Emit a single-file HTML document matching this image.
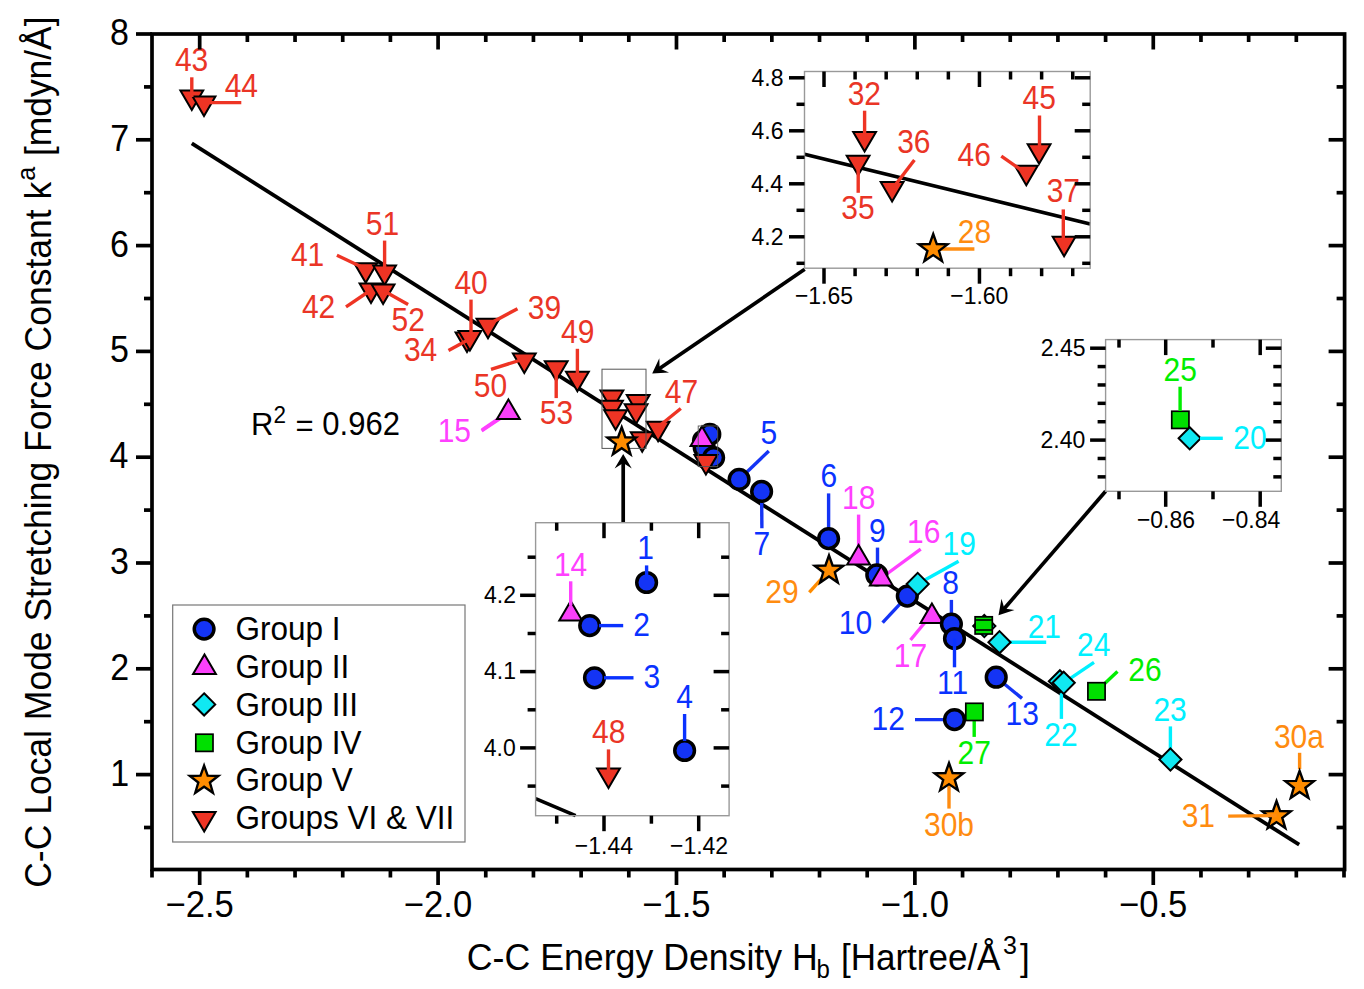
<!DOCTYPE html>
<html><head><meta charset="utf-8"><style>
html,body{margin:0;padding:0;background:#fff;width:1364px;height:989px;overflow:hidden}
svg{display:block}
text{font-family:"Liberation Sans", sans-serif}
</style></head><body>
<svg width="1364" height="989" viewBox="0 0 1364 989">
<rect width="1364" height="989" fill="#fff"/>
<line x1="191.80" y1="143.30" x2="1299.20" y2="844.70" stroke="#000" stroke-width="3.8" stroke-linecap="butt"/>
<line x1="482.00" y1="430.00" x2="508.40" y2="412.00" stroke="#FF40FF" stroke-width="3.4"/>
<line x1="768.80" y1="451.00" x2="739.10" y2="479.40" stroke="#1434F5" stroke-width="3.4"/>
<line x1="761.60" y1="491.40" x2="761.90" y2="528.30" stroke="#1434F5" stroke-width="3.4"/>
<line x1="828.60" y1="493.40" x2="828.60" y2="538.60" stroke="#1434F5" stroke-width="3.4"/>
<line x1="858.60" y1="514.60" x2="858.60" y2="556.00" stroke="#FF40FF" stroke-width="3.4"/>
<line x1="809.30" y1="592.30" x2="829.00" y2="570.40" stroke="#FF8C00" stroke-width="3.4"/>
<line x1="877.50" y1="547.60" x2="877.50" y2="574.90" stroke="#1434F5" stroke-width="3.4"/>
<line x1="920.70" y1="549.10" x2="881.30" y2="578.00" stroke="#FF40FF" stroke-width="3.4"/>
<line x1="958.60" y1="561.30" x2="917.70" y2="584.00" stroke="#00F0FF" stroke-width="3.4"/>
<line x1="882.60" y1="622.70" x2="907.30" y2="596.10" stroke="#1434F5" stroke-width="3.4"/>
<line x1="910.50" y1="640.00" x2="931.90" y2="614.00" stroke="#FF40FF" stroke-width="3.4"/>
<line x1="951.40" y1="599.90" x2="951.40" y2="624.10" stroke="#1434F5" stroke-width="3.4"/>
<line x1="996.20" y1="677.20" x2="1022.00" y2="698.40" stroke="#1434F5" stroke-width="3.4"/>
<line x1="915.00" y1="719.60" x2="954.50" y2="719.60" stroke="#1434F5" stroke-width="3.4"/>
<line x1="974.20" y1="711.90" x2="974.20" y2="736.90" stroke="#00EE00" stroke-width="3.4"/>
<line x1="999.50" y1="642.20" x2="1046.20" y2="642.20" stroke="#00F0FF" stroke-width="3.4"/>
<line x1="1061.40" y1="682.00" x2="1061.40" y2="718.90" stroke="#00F0FF" stroke-width="3.4"/>
<line x1="1063.70" y1="682.80" x2="1094.00" y2="662.30" stroke="#00F0FF" stroke-width="3.4"/>
<line x1="1096.50" y1="691.30" x2="1117.50" y2="671.40" stroke="#00EE00" stroke-width="3.4"/>
<line x1="1170.40" y1="726.40" x2="1170.40" y2="750.00" stroke="#00F0FF" stroke-width="3.4"/>
<line x1="949.00" y1="778.00" x2="949.00" y2="808.60" stroke="#FF8C10" stroke-width="3.4"/>
<line x1="1299.60" y1="752.80" x2="1299.60" y2="769.00" stroke="#FF8C10" stroke-width="3.4"/>
<line x1="481.60" y1="430.80" x2="500.00" y2="418.50" stroke="#FF40FF" stroke-width="3.4"/>
<path d="M180.40,90.40L203.20,90.40L191.80,109.90Z" fill="#EE3424" stroke="#000" stroke-width="2.0" stroke-linejoin="miter"/>
<path d="M192.60,96.50L215.40,96.50L204.00,116.00Z" fill="#EE3424" stroke="#000" stroke-width="2.0" stroke-linejoin="miter"/>
<path d="M354.30,263.20L377.10,263.20L365.70,282.70Z" fill="#EE3424" stroke="#000" stroke-width="2.0" stroke-linejoin="miter"/>
<path d="M373.20,265.40L396.00,265.40L384.60,284.90Z" fill="#EE3424" stroke="#000" stroke-width="2.0" stroke-linejoin="miter"/>
<path d="M359.60,283.60L382.40,283.60L371.00,303.10Z" fill="#EE3424" stroke="#000" stroke-width="2.0" stroke-linejoin="miter"/>
<path d="M371.70,284.40L394.50,284.40L383.10,303.90Z" fill="#EE3424" stroke="#000" stroke-width="2.0" stroke-linejoin="miter"/>
<path d="M455.60,332.50L478.40,332.50L467.00,352.00Z" fill="#EE3424" stroke="#000" stroke-width="2.0" stroke-linejoin="miter"/>
<path d="M458.50,331.00L481.30,331.00L469.90,350.50Z" fill="#EE3424" stroke="#000" stroke-width="2.0" stroke-linejoin="miter"/>
<path d="M476.60,318.80L499.40,318.80L488.00,338.30Z" fill="#EE3424" stroke="#000" stroke-width="2.0" stroke-linejoin="miter"/>
<path d="M512.90,353.60L535.70,353.60L524.30,373.10Z" fill="#EE3424" stroke="#000" stroke-width="2.0" stroke-linejoin="miter"/>
<path d="M544.80,361.20L567.60,361.20L556.20,380.70Z" fill="#EE3424" stroke="#000" stroke-width="2.0" stroke-linejoin="miter"/>
<path d="M566.00,371.80L588.80,371.80L577.40,391.30Z" fill="#EE3424" stroke="#000" stroke-width="2.0" stroke-linejoin="miter"/>
<path d="M508.40,399.40L519.80,418.90L497.00,418.90Z" fill="#FA40FA" stroke="#000" stroke-width="2.0" stroke-linejoin="miter"/>
<path d="M600.50,390.60L623.30,390.60L611.90,410.10Z" fill="#EE3424" stroke="#000" stroke-width="2.0" stroke-linejoin="miter"/>
<path d="M600.10,400.70L622.90,400.70L611.50,420.20Z" fill="#EE3424" stroke="#000" stroke-width="2.0" stroke-linejoin="miter"/>
<path d="M604.20,410.30L627.00,410.30L615.60,429.80Z" fill="#EE3424" stroke="#000" stroke-width="2.0" stroke-linejoin="miter"/>
<path d="M626.80,395.10L649.60,395.10L638.20,414.60Z" fill="#EE3424" stroke="#000" stroke-width="2.0" stroke-linejoin="miter"/>
<path d="M624.70,404.20L647.50,404.20L636.10,423.70Z" fill="#EE3424" stroke="#000" stroke-width="2.0" stroke-linejoin="miter"/>
<path d="M630.80,432.30L653.60,432.30L642.20,451.80Z" fill="#EE3424" stroke="#000" stroke-width="2.0" stroke-linejoin="miter"/>
<path d="M646.70,421.70L669.50,421.70L658.10,441.20Z" fill="#EE3424" stroke="#000" stroke-width="2.0" stroke-linejoin="miter"/>
<circle cx="703.50" cy="440.80" r="9.85" fill="#1434F5" stroke="#000" stroke-width="3.5"/>
<circle cx="704.20" cy="447.50" r="9.85" fill="#1434F5" stroke="#000" stroke-width="3.5"/>
<circle cx="709.80" cy="434.30" r="9.85" fill="#1434F5" stroke="#000" stroke-width="3.5"/>
<path d="M702.00,426.40L713.40,445.90L690.60,445.90Z" fill="#FA40FA" stroke="#000" stroke-width="2.0" stroke-linejoin="miter"/>
<circle cx="713.60" cy="457.60" r="9.85" fill="#1434F5" stroke="#000" stroke-width="3.5"/>
<path d="M694.50,455.00L717.30,455.00L705.90,474.50Z" fill="#EE3424" stroke="#000" stroke-width="2.0" stroke-linejoin="miter"/>
<rect x="698.2" y="426" width="19.5" height="40.6" fill="none" stroke="#555" stroke-width="0.9"/>
<circle cx="739.10" cy="479.40" r="9.85" fill="#1434F5" stroke="#000" stroke-width="3.5"/>
<circle cx="761.60" cy="491.40" r="9.85" fill="#1434F5" stroke="#000" stroke-width="3.5"/>
<circle cx="828.60" cy="538.60" r="9.85" fill="#1434F5" stroke="#000" stroke-width="3.5"/>
<path d="M858.60,544.90L870.00,564.40L847.20,564.40Z" fill="#FA40FA" stroke="#000" stroke-width="2.0" stroke-linejoin="miter"/>
<path d="M829.00,555.40L832.59,565.46L843.27,565.76L834.80,572.29L837.82,582.54L829.00,576.50L820.18,582.54L823.20,572.29L814.73,565.76L825.41,565.46Z" fill="#FF8C00" stroke="#000" stroke-width="2.4" stroke-miterlimit="10"/>
<circle cx="876.80" cy="574.90" r="9.85" fill="#1434F5" stroke="#000" stroke-width="3.5"/>
<path d="M881.30,566.00L892.70,585.50L869.90,585.50Z" fill="#FA40FA" stroke="#000" stroke-width="2.0" stroke-linejoin="miter"/>
<circle cx="907.30" cy="596.10" r="9.85" fill="#1434F5" stroke="#000" stroke-width="3.5"/>
<path d="M917.70,572.90L928.80,584.00L917.70,595.10L906.60,584.00Z" fill="#10E8F2" stroke="#000" stroke-width="2.0"/>
<path d="M931.90,603.40L943.30,622.90L920.50,622.90Z" fill="#FA40FA" stroke="#000" stroke-width="2.0" stroke-linejoin="miter"/>
<circle cx="951.40" cy="624.10" r="9.85" fill="#1434F5" stroke="#000" stroke-width="3.5"/>
<circle cx="954.50" cy="638.50" r="9.85" fill="#1434F5" stroke="#000" stroke-width="3.5"/>
<path d="M984.30,615.00L995.40,626.10L984.30,637.20L973.20,626.10Z" fill="#10E8F2" stroke="#000" stroke-width="2.0"/>
<rect x="975.10" y="616.80" width="17.2" height="17.2" fill="#00E000" stroke="#000" stroke-width="1.7"/>
<line x1="975.00" y1="620.00" x2="992.50" y2="620.00" stroke="#000" stroke-width="1.6" stroke-linecap="butt"/>
<line x1="975.00" y1="630.00" x2="992.50" y2="630.00" stroke="#000" stroke-width="1.6" stroke-linecap="butt"/>
<path d="M999.50,631.10L1010.60,642.20L999.50,653.30L988.40,642.20Z" fill="#10E8F2" stroke="#000" stroke-width="2.0"/>
<circle cx="996.20" cy="677.20" r="9.85" fill="#1434F5" stroke="#000" stroke-width="3.5"/>
<circle cx="954.50" cy="719.60" r="9.85" fill="#1434F5" stroke="#000" stroke-width="3.5"/>
<rect x="965.80" y="703.30" width="17.2" height="17.2" fill="#00E000" stroke="#000" stroke-width="1.7"/>
<path d="M949.00,763.00L952.59,773.06L963.27,773.36L954.80,779.89L957.82,790.14L949.00,784.10L940.18,790.14L943.20,779.89L934.73,773.36L945.41,773.06Z" fill="#FF8C00" stroke="#000" stroke-width="2.4" stroke-miterlimit="10"/>
<path d="M1059.90,670.20L1071.00,681.30L1059.90,692.40L1048.80,681.30Z" fill="#10E8F2" stroke="#000" stroke-width="2.0"/>
<path d="M1063.70,671.70L1074.80,682.80L1063.70,693.90L1052.60,682.80Z" fill="#10E8F2" stroke="#000" stroke-width="2.0"/>
<rect x="1087.90" y="682.70" width="17.2" height="17.2" fill="#00E000" stroke="#000" stroke-width="1.7"/>
<path d="M1170.40,748.40L1181.50,759.50L1170.40,770.60L1159.30,759.50Z" fill="#10E8F2" stroke="#000" stroke-width="2.0"/>
<path d="M1276.50,801.00L1280.09,811.06L1290.77,811.36L1282.30,817.89L1285.32,828.14L1276.50,822.10L1267.68,828.14L1270.70,817.89L1262.23,811.36L1272.91,811.06Z" fill="#FF8C00" stroke="#000" stroke-width="2.4" stroke-miterlimit="10"/>
<path d="M1299.60,770.80L1303.19,780.86L1313.87,781.16L1305.40,787.69L1308.42,797.94L1299.60,791.90L1290.78,797.94L1293.80,787.69L1285.33,781.16L1296.01,780.86Z" fill="#FF8C00" stroke="#000" stroke-width="2.4" stroke-miterlimit="10"/>
<line x1="191.80" y1="77.30" x2="191.80" y2="97.00" stroke="#EE3424" stroke-width="3.4" stroke-linecap="butt"/>
<line x1="205.00" y1="102.60" x2="241.30" y2="102.60" stroke="#EE3424" stroke-width="3.4" stroke-linecap="butt"/>
<line x1="336.90" y1="255.30" x2="366.00" y2="269.00" stroke="#EE3424" stroke-width="3.4" stroke-linecap="butt"/>
<line x1="384.60" y1="240.60" x2="384.60" y2="270.00" stroke="#EE3424" stroke-width="3.4" stroke-linecap="butt"/>
<line x1="346.00" y1="306.90" x2="371.00" y2="290.00" stroke="#EE3424" stroke-width="3.4" stroke-linecap="butt"/>
<line x1="408.10" y1="304.60" x2="384.00" y2="291.00" stroke="#EE3424" stroke-width="3.4" stroke-linecap="butt"/>
<line x1="471.00" y1="299.60" x2="471.00" y2="337.00" stroke="#EE3424" stroke-width="3.4" stroke-linecap="butt"/>
<line x1="517.50" y1="308.70" x2="489.00" y2="324.00" stroke="#EE3424" stroke-width="3.4" stroke-linecap="butt"/>
<line x1="448.50" y1="350.40" x2="471.00" y2="338.20" stroke="#EE3424" stroke-width="3.4" stroke-linecap="butt"/>
<line x1="491.00" y1="369.30" x2="524.00" y2="359.00" stroke="#EE3424" stroke-width="3.4" stroke-linecap="butt"/>
<line x1="556.20" y1="366.00" x2="556.20" y2="398.10" stroke="#EE3424" stroke-width="3.4" stroke-linecap="butt"/>
<line x1="577.40" y1="348.80" x2="577.40" y2="378.00" stroke="#EE3424" stroke-width="3.4" stroke-linecap="butt"/>
<line x1="680.80" y1="408.50" x2="658.00" y2="427.00" stroke="#EE3424" stroke-width="3.4" stroke-linecap="butt"/>
<line x1="954.50" y1="638.50" x2="954.50" y2="667.30" stroke="#0A32FF" stroke-width="3.4" stroke-linecap="butt"/>
<line x1="1228.20" y1="816.10" x2="1276.50" y2="815.60" stroke="#FF8C10" stroke-width="3.4" stroke-linecap="butt"/>
<rect x="602" y="369.2" width="44" height="79.2" fill="none" stroke="#555" stroke-width="1.0"/>
<path d="M621.70,427.20L625.29,437.26L635.97,437.56L627.50,444.09L630.52,454.34L621.70,448.30L612.88,454.34L615.90,444.09L607.43,437.56L618.11,437.26Z" fill="#FF8C00" stroke="#000" stroke-width="2.4" stroke-miterlimit="10"/>
<text transform="translate(174.90,71.30) scale(1,1.08)" fill="#EA3526" font-size="30">43</text>
<text transform="translate(224.68,97.00) scale(1,1.08)" fill="#EA3526" font-size="30">44</text>
<text transform="translate(290.93,266.00) scale(1,1.08)" fill="#EA3526" font-size="30">41</text>
<text transform="translate(365.77,234.90) scale(1,1.08)" fill="#EA3526" font-size="30">51</text>
<text transform="translate(301.93,317.50) scale(1,1.08)" fill="#EA3526" font-size="30">42</text>
<text transform="translate(391.48,331.20) scale(1,1.08)" fill="#EA3526" font-size="30">52</text>
<text transform="translate(454.40,293.50) scale(1,1.08)" fill="#EA3526" font-size="30">40</text>
<text transform="translate(527.77,319.30) scale(1,1.08)" fill="#EA3526" font-size="30">39</text>
<text transform="translate(403.93,361.00) scale(1,1.08)" fill="#EA3526" font-size="30">34</text>
<text transform="translate(473.85,396.60) scale(1,1.08)" fill="#EA3526" font-size="30">50</text>
<text transform="translate(561.02,342.80) scale(1,1.08)" fill="#EA3526" font-size="30">49</text>
<text transform="translate(539.75,423.90) scale(1,1.08)" fill="#EA3526" font-size="30">53</text>
<text transform="translate(437.65,441.60) scale(1,1.08)" fill="#FF40FF" font-size="30">15</text>
<text transform="translate(664.83,402.50) scale(1,1.08)" fill="#EA3526" font-size="30">47</text>
<text transform="translate(760.42,444.20) scale(1,1.08)" fill="#0A32FF" font-size="30">5</text>
<text transform="translate(753.42,554.80) scale(1,1.08)" fill="#0A32FF" font-size="30">7</text>
<text transform="translate(820.50,487.30) scale(1,1.08)" fill="#0A32FF" font-size="30">6</text>
<text transform="translate(842.05,509.30) scale(1,1.08)" fill="#FF40FF" font-size="30">18</text>
<text transform="translate(765.25,603.00) scale(1,1.08)" fill="#FF8C10" font-size="30">29</text>
<text transform="translate(869.12,541.60) scale(1,1.08)" fill="#0A32FF" font-size="30">9</text>
<text transform="translate(906.95,543.10) scale(1,1.08)" fill="#FF40FF" font-size="30">16</text>
<text transform="translate(942.48,555.00) scale(1,1.08)" fill="#00F0FF" font-size="30">19</text>
<text transform="translate(838.75,634.00) scale(1,1.08)" fill="#0A32FF" font-size="30">10</text>
<text transform="translate(893.77,666.60) scale(1,1.08)" fill="#FF40FF" font-size="30">17</text>
<text transform="translate(942.33,593.90) scale(1,1.08)" fill="#0A32FF" font-size="30">8</text>
<text transform="translate(937.00,693.90) scale(1,1.08)" fill="#0A32FF" font-size="30">11</text>
<text transform="translate(1005.55,725.00) scale(1,1.08)" fill="#0A32FF" font-size="30">13</text>
<text transform="translate(871.48,730.30) scale(1,1.08)" fill="#0A32FF" font-size="30">12</text>
<text transform="translate(957.55,763.90) scale(1,1.08)" fill="#00EE00" font-size="30">27</text>
<text transform="translate(924.00,835.70) scale(1,1.08)" fill="#FF8C10" font-size="30">30b</text>
<text transform="translate(1027.65,638.00) scale(1,1.08)" fill="#00F0FF" font-size="30">21</text>
<text transform="translate(1044.25,745.70) scale(1,1.08)" fill="#00F0FF" font-size="30">22</text>
<text transform="translate(1077.00,656.20) scale(1,1.08)" fill="#00F0FF" font-size="30">24</text>
<text transform="translate(1128.33,681.30) scale(1,1.08)" fill="#00EE00" font-size="30">26</text>
<text transform="translate(1153.42,720.80) scale(1,1.08)" fill="#00F0FF" font-size="30">23</text>
<text transform="translate(1273.88,747.70) scale(1,1.08)" fill="#FF8C10" font-size="30">30a</text>
<text transform="translate(1181.67,827.00) scale(1,1.08)" fill="#FF8C10" font-size="30">31</text>
<text transform="translate(251.00,435.40) scale(1,1.03)" fill="#000" font-size="31">R</text>
<text transform="translate(273.50,422.50) scale(1,1.05)" fill="#000" font-size="22.5">2</text>
<text transform="translate(295.40,436.20) scale(1,1.0)" fill="#000" font-size="31">=</text>
<text transform="translate(322.35,435.40) scale(1,1.07)" fill="#000" font-size="31">0.962</text>
<rect x="152.0" y="34.0" width="1192.60" height="835.50" fill="none" stroke="#000" stroke-width="3.7"/>
<line x1="152.00" y1="869.50" x2="152.00" y2="877.50" stroke="#000" stroke-width="3.7" stroke-linecap="butt"/>
<line x1="199.68" y1="869.50" x2="199.68" y2="885.00" stroke="#000" stroke-width="3.7" stroke-linecap="butt"/>
<line x1="199.68" y1="34.00" x2="199.68" y2="49.50" stroke="#000" stroke-width="3.7" stroke-linecap="butt"/>
<line x1="247.36" y1="869.50" x2="247.36" y2="877.50" stroke="#000" stroke-width="3.7" stroke-linecap="butt"/>
<line x1="247.36" y1="34.00" x2="247.36" y2="42.00" stroke="#000" stroke-width="3.7" stroke-linecap="butt"/>
<line x1="295.04" y1="869.50" x2="295.04" y2="877.50" stroke="#000" stroke-width="3.7" stroke-linecap="butt"/>
<line x1="295.04" y1="34.00" x2="295.04" y2="42.00" stroke="#000" stroke-width="3.7" stroke-linecap="butt"/>
<line x1="342.72" y1="869.50" x2="342.72" y2="877.50" stroke="#000" stroke-width="3.7" stroke-linecap="butt"/>
<line x1="342.72" y1="34.00" x2="342.72" y2="42.00" stroke="#000" stroke-width="3.7" stroke-linecap="butt"/>
<line x1="390.40" y1="869.50" x2="390.40" y2="877.50" stroke="#000" stroke-width="3.7" stroke-linecap="butt"/>
<line x1="390.40" y1="34.00" x2="390.40" y2="42.00" stroke="#000" stroke-width="3.7" stroke-linecap="butt"/>
<line x1="438.08" y1="869.50" x2="438.08" y2="885.00" stroke="#000" stroke-width="3.7" stroke-linecap="butt"/>
<line x1="438.08" y1="34.00" x2="438.08" y2="49.50" stroke="#000" stroke-width="3.7" stroke-linecap="butt"/>
<line x1="485.76" y1="869.50" x2="485.76" y2="877.50" stroke="#000" stroke-width="3.7" stroke-linecap="butt"/>
<line x1="485.76" y1="34.00" x2="485.76" y2="42.00" stroke="#000" stroke-width="3.7" stroke-linecap="butt"/>
<line x1="533.44" y1="869.50" x2="533.44" y2="877.50" stroke="#000" stroke-width="3.7" stroke-linecap="butt"/>
<line x1="533.44" y1="34.00" x2="533.44" y2="42.00" stroke="#000" stroke-width="3.7" stroke-linecap="butt"/>
<line x1="581.12" y1="869.50" x2="581.12" y2="877.50" stroke="#000" stroke-width="3.7" stroke-linecap="butt"/>
<line x1="581.12" y1="34.00" x2="581.12" y2="42.00" stroke="#000" stroke-width="3.7" stroke-linecap="butt"/>
<line x1="628.80" y1="869.50" x2="628.80" y2="877.50" stroke="#000" stroke-width="3.7" stroke-linecap="butt"/>
<line x1="628.80" y1="34.00" x2="628.80" y2="42.00" stroke="#000" stroke-width="3.7" stroke-linecap="butt"/>
<line x1="676.48" y1="869.50" x2="676.48" y2="885.00" stroke="#000" stroke-width="3.7" stroke-linecap="butt"/>
<line x1="676.48" y1="34.00" x2="676.48" y2="49.50" stroke="#000" stroke-width="3.7" stroke-linecap="butt"/>
<line x1="724.16" y1="869.50" x2="724.16" y2="877.50" stroke="#000" stroke-width="3.7" stroke-linecap="butt"/>
<line x1="724.16" y1="34.00" x2="724.16" y2="42.00" stroke="#000" stroke-width="3.7" stroke-linecap="butt"/>
<line x1="771.84" y1="869.50" x2="771.84" y2="877.50" stroke="#000" stroke-width="3.7" stroke-linecap="butt"/>
<line x1="771.84" y1="34.00" x2="771.84" y2="42.00" stroke="#000" stroke-width="3.7" stroke-linecap="butt"/>
<line x1="819.52" y1="869.50" x2="819.52" y2="877.50" stroke="#000" stroke-width="3.7" stroke-linecap="butt"/>
<line x1="819.52" y1="34.00" x2="819.52" y2="42.00" stroke="#000" stroke-width="3.7" stroke-linecap="butt"/>
<line x1="867.20" y1="869.50" x2="867.20" y2="877.50" stroke="#000" stroke-width="3.7" stroke-linecap="butt"/>
<line x1="867.20" y1="34.00" x2="867.20" y2="42.00" stroke="#000" stroke-width="3.7" stroke-linecap="butt"/>
<line x1="914.88" y1="869.50" x2="914.88" y2="885.00" stroke="#000" stroke-width="3.7" stroke-linecap="butt"/>
<line x1="914.88" y1="34.00" x2="914.88" y2="49.50" stroke="#000" stroke-width="3.7" stroke-linecap="butt"/>
<line x1="962.56" y1="869.50" x2="962.56" y2="877.50" stroke="#000" stroke-width="3.7" stroke-linecap="butt"/>
<line x1="962.56" y1="34.00" x2="962.56" y2="42.00" stroke="#000" stroke-width="3.7" stroke-linecap="butt"/>
<line x1="1010.24" y1="869.50" x2="1010.24" y2="877.50" stroke="#000" stroke-width="3.7" stroke-linecap="butt"/>
<line x1="1010.24" y1="34.00" x2="1010.24" y2="42.00" stroke="#000" stroke-width="3.7" stroke-linecap="butt"/>
<line x1="1057.92" y1="869.50" x2="1057.92" y2="877.50" stroke="#000" stroke-width="3.7" stroke-linecap="butt"/>
<line x1="1057.92" y1="34.00" x2="1057.92" y2="42.00" stroke="#000" stroke-width="3.7" stroke-linecap="butt"/>
<line x1="1105.60" y1="869.50" x2="1105.60" y2="877.50" stroke="#000" stroke-width="3.7" stroke-linecap="butt"/>
<line x1="1105.60" y1="34.00" x2="1105.60" y2="42.00" stroke="#000" stroke-width="3.7" stroke-linecap="butt"/>
<line x1="1153.28" y1="869.50" x2="1153.28" y2="885.00" stroke="#000" stroke-width="3.7" stroke-linecap="butt"/>
<line x1="1153.28" y1="34.00" x2="1153.28" y2="49.50" stroke="#000" stroke-width="3.7" stroke-linecap="butt"/>
<line x1="1200.96" y1="869.50" x2="1200.96" y2="877.50" stroke="#000" stroke-width="3.7" stroke-linecap="butt"/>
<line x1="1200.96" y1="34.00" x2="1200.96" y2="42.00" stroke="#000" stroke-width="3.7" stroke-linecap="butt"/>
<line x1="1248.64" y1="869.50" x2="1248.64" y2="877.50" stroke="#000" stroke-width="3.7" stroke-linecap="butt"/>
<line x1="1248.64" y1="34.00" x2="1248.64" y2="42.00" stroke="#000" stroke-width="3.7" stroke-linecap="butt"/>
<line x1="1296.32" y1="869.50" x2="1296.32" y2="877.50" stroke="#000" stroke-width="3.7" stroke-linecap="butt"/>
<line x1="1296.32" y1="34.00" x2="1296.32" y2="42.00" stroke="#000" stroke-width="3.7" stroke-linecap="butt"/>
<line x1="1344.00" y1="869.50" x2="1344.00" y2="877.50" stroke="#000" stroke-width="3.7" stroke-linecap="butt"/>
<line x1="144.00" y1="827.50" x2="152.00" y2="827.50" stroke="#000" stroke-width="3.7" stroke-linecap="butt"/>
<line x1="1344.60" y1="827.50" x2="1336.60" y2="827.50" stroke="#000" stroke-width="3.7" stroke-linecap="butt"/>
<line x1="136.00" y1="774.60" x2="152.00" y2="774.60" stroke="#000" stroke-width="3.7" stroke-linecap="butt"/>
<line x1="1344.60" y1="774.60" x2="1328.60" y2="774.60" stroke="#000" stroke-width="3.7" stroke-linecap="butt"/>
<line x1="144.00" y1="721.70" x2="152.00" y2="721.70" stroke="#000" stroke-width="3.7" stroke-linecap="butt"/>
<line x1="1344.60" y1="721.70" x2="1336.60" y2="721.70" stroke="#000" stroke-width="3.7" stroke-linecap="butt"/>
<line x1="136.00" y1="668.80" x2="152.00" y2="668.80" stroke="#000" stroke-width="3.7" stroke-linecap="butt"/>
<line x1="1344.60" y1="668.80" x2="1328.60" y2="668.80" stroke="#000" stroke-width="3.7" stroke-linecap="butt"/>
<line x1="144.00" y1="615.90" x2="152.00" y2="615.90" stroke="#000" stroke-width="3.7" stroke-linecap="butt"/>
<line x1="1344.60" y1="615.90" x2="1336.60" y2="615.90" stroke="#000" stroke-width="3.7" stroke-linecap="butt"/>
<line x1="136.00" y1="563.00" x2="152.00" y2="563.00" stroke="#000" stroke-width="3.7" stroke-linecap="butt"/>
<line x1="1344.60" y1="563.00" x2="1328.60" y2="563.00" stroke="#000" stroke-width="3.7" stroke-linecap="butt"/>
<line x1="144.00" y1="510.10" x2="152.00" y2="510.10" stroke="#000" stroke-width="3.7" stroke-linecap="butt"/>
<line x1="1344.60" y1="510.10" x2="1336.60" y2="510.10" stroke="#000" stroke-width="3.7" stroke-linecap="butt"/>
<line x1="136.00" y1="457.20" x2="152.00" y2="457.20" stroke="#000" stroke-width="3.7" stroke-linecap="butt"/>
<line x1="1344.60" y1="457.20" x2="1328.60" y2="457.20" stroke="#000" stroke-width="3.7" stroke-linecap="butt"/>
<line x1="144.00" y1="404.30" x2="152.00" y2="404.30" stroke="#000" stroke-width="3.7" stroke-linecap="butt"/>
<line x1="1344.60" y1="404.30" x2="1336.60" y2="404.30" stroke="#000" stroke-width="3.7" stroke-linecap="butt"/>
<line x1="136.00" y1="351.40" x2="152.00" y2="351.40" stroke="#000" stroke-width="3.7" stroke-linecap="butt"/>
<line x1="1344.60" y1="351.40" x2="1328.60" y2="351.40" stroke="#000" stroke-width="3.7" stroke-linecap="butt"/>
<line x1="144.00" y1="298.50" x2="152.00" y2="298.50" stroke="#000" stroke-width="3.7" stroke-linecap="butt"/>
<line x1="1344.60" y1="298.50" x2="1336.60" y2="298.50" stroke="#000" stroke-width="3.7" stroke-linecap="butt"/>
<line x1="136.00" y1="245.60" x2="152.00" y2="245.60" stroke="#000" stroke-width="3.7" stroke-linecap="butt"/>
<line x1="1344.60" y1="245.60" x2="1328.60" y2="245.60" stroke="#000" stroke-width="3.7" stroke-linecap="butt"/>
<line x1="144.00" y1="192.70" x2="152.00" y2="192.70" stroke="#000" stroke-width="3.7" stroke-linecap="butt"/>
<line x1="1344.60" y1="192.70" x2="1336.60" y2="192.70" stroke="#000" stroke-width="3.7" stroke-linecap="butt"/>
<line x1="136.00" y1="139.80" x2="152.00" y2="139.80" stroke="#000" stroke-width="3.7" stroke-linecap="butt"/>
<line x1="1344.60" y1="139.80" x2="1328.60" y2="139.80" stroke="#000" stroke-width="3.7" stroke-linecap="butt"/>
<line x1="144.00" y1="86.90" x2="152.00" y2="86.90" stroke="#000" stroke-width="3.7" stroke-linecap="butt"/>
<line x1="1344.60" y1="86.90" x2="1336.60" y2="86.90" stroke="#000" stroke-width="3.7" stroke-linecap="butt"/>
<line x1="136.00" y1="34.00" x2="152.00" y2="34.00" stroke="#000" stroke-width="3.7" stroke-linecap="butt"/>
<text transform="translate(165.43,916.80) scale(1,1.07)" fill="#000" font-size="34.6">−2.5</text>
<text transform="translate(403.83,916.80) scale(1,1.07)" fill="#000" font-size="34.6">−2.0</text>
<text transform="translate(642.23,916.80) scale(1,1.07)" fill="#000" font-size="34.6">−1.5</text>
<text transform="translate(880.63,916.80) scale(1,1.07)" fill="#000" font-size="34.6">−1.0</text>
<text transform="translate(1119.03,916.80) scale(1,1.07)" fill="#000" font-size="34.6">−0.5</text>
<text transform="translate(110.25,785.50) scale(1,1.1)" fill="#000" font-size="34">1</text>
<text transform="translate(110.25,679.70) scale(1,1.1)" fill="#000" font-size="34">2</text>
<text transform="translate(110.00,573.90) scale(1,1.1)" fill="#000" font-size="34">3</text>
<text transform="translate(109.50,468.10) scale(1,1.1)" fill="#000" font-size="34">4</text>
<text transform="translate(110.00,362.30) scale(1,1.1)" fill="#000" font-size="34">5</text>
<text transform="translate(110.00,256.50) scale(1,1.1)" fill="#000" font-size="34">6</text>
<text transform="translate(110.25,150.70) scale(1,1.1)" fill="#000" font-size="34">7</text>
<text transform="translate(110.00,44.90) scale(1,1.1)" fill="#000" font-size="34">8</text>
<text transform="translate(466.85,969.70) scale(1,1.03)" fill="#000" font-size="35.7">C-C Energy Density H</text>
<text transform="translate(816.40,977.50) scale(1,1.04)" fill="#000" font-size="24">b</text>
<text transform="translate(841.00,969.70) scale(1,1.03)" fill="#000" font-size="35">[Hartree/Å</text>
<text transform="translate(1002.90,953.90) scale(1,1.04)" fill="#000" font-size="25">3</text>
<text transform="translate(1020.05,969.70) scale(1,1.03)" fill="#000" font-size="35">]</text>
<text transform="translate(51.30,887.75) rotate(-90) scale(1,1.03)" x="0" y="0" font-size="35.5" fill="#000">C-C Local Mode Stretching Force Constant k</text>
<text transform="translate(35.00,180.80) rotate(-90) scale(1,1.03)" x="0" y="0" font-size="25" fill="#000">a</text>
<text transform="translate(51.30,156.10) rotate(-90) scale(1,1.03)" x="0" y="0" font-size="35.4" fill="#000">[mdyn/Å]</text>
<rect x="172.7" y="605" width="292.3" height="237" fill="#fff" stroke="#777" stroke-width="1.2"/>
<circle cx="204.10" cy="629.10" r="9.85" fill="#1434F5" stroke="#000" stroke-width="3.5"/>
<path d="M204.50,654.60L215.90,674.10L193.10,674.10Z" fill="#FA40FA" stroke="#000" stroke-width="2.0" stroke-linejoin="miter"/>
<path d="M204.10,693.30L215.20,704.40L204.10,715.50L193.00,704.40Z" fill="#10E8F2" stroke="#000" stroke-width="2.0"/>
<rect x="195.80" y="734.20" width="17.2" height="17.2" fill="#00E000" stroke="#000" stroke-width="1.7"/>
<path d="M204.10,765.60L207.69,775.66L218.37,775.96L209.90,782.49L212.92,792.74L204.10,786.70L195.28,792.74L198.30,782.49L189.83,775.96L200.51,775.66Z" fill="#FF8C00" stroke="#000" stroke-width="2.4" stroke-miterlimit="10"/>
<path d="M192.80,812.00L215.60,812.00L204.20,831.50Z" fill="#EE3424" stroke="#000" stroke-width="2.0" stroke-linejoin="miter"/>
<text transform="translate(235.40,640.00) scale(1,1.04)" fill="#000" font-size="31.5">Group I</text>
<text transform="translate(235.40,677.80) scale(1,1.04)" fill="#000" font-size="31.5">Group II</text>
<text transform="translate(235.40,715.70) scale(1,1.04)" fill="#000" font-size="31.5">Group III</text>
<text transform="translate(235.40,753.70) scale(1,1.04)" fill="#000" font-size="31.5">Group IV</text>
<text transform="translate(235.40,790.80) scale(1,1.04)" fill="#000" font-size="31.5">Group V</text>
<text transform="translate(235.40,828.70) scale(1,1.04)" fill="#000" font-size="31.5">Groups VI &amp; VII</text>
<line x1="804.70" y1="269.30" x2="658.80" y2="369.08" stroke="#000" stroke-width="3.7" stroke-linecap="butt"/>
<path d="M652.20,373.60L669.02,372.51L659.63,368.52L659.31,358.32Z" fill="#000"/>
<line x1="623.20" y1="522.70" x2="623.20" y2="462.00" stroke="#000" stroke-width="3.7" stroke-linecap="butt"/>
<path d="M623.20,454.00L614.60,468.50L623.20,463.00L631.80,468.50Z" fill="#000"/>
<line x1="1105.60" y1="491.30" x2="1003.73" y2="609.25" stroke="#000" stroke-width="3.7" stroke-linecap="butt"/>
<path d="M998.50,615.30L1014.49,609.95L1004.38,608.49L1001.47,598.71Z" fill="#000"/>
<rect x="804.5" y="71.5" width="285.70" height="196.70" fill="#fff" stroke="none"/>
<line x1="804.50" y1="154.20" x2="1090.20" y2="223.90" stroke="#000" stroke-width="3.6" stroke-linecap="butt"/>
<path d="M853.20,132.00L876.00,132.00L864.60,151.50Z" fill="#EE3424" stroke="#000" stroke-width="2.0" stroke-linejoin="miter"/>
<path d="M846.70,155.70L869.50,155.70L858.10,175.20Z" fill="#EE3424" stroke="#000" stroke-width="2.0" stroke-linejoin="miter"/>
<path d="M880.70,182.10L903.50,182.10L892.10,201.60Z" fill="#EE3424" stroke="#000" stroke-width="2.0" stroke-linejoin="miter"/>
<path d="M1027.70,144.30L1050.50,144.30L1039.10,163.80Z" fill="#EE3424" stroke="#000" stroke-width="2.0" stroke-linejoin="miter"/>
<path d="M1014.90,165.70L1037.70,165.70L1026.30,185.20Z" fill="#EE3424" stroke="#000" stroke-width="2.0" stroke-linejoin="miter"/>
<path d="M1052.70,236.80L1075.50,236.80L1064.10,256.30Z" fill="#EE3424" stroke="#000" stroke-width="2.0" stroke-linejoin="miter"/>
<line x1="933.20" y1="249.00" x2="974.40" y2="249.00" stroke="#FF8C10" stroke-width="3.4" stroke-linecap="butt"/>
<path d="M933.20,234.00L936.79,244.06L947.47,244.36L939.00,250.89L942.02,261.14L933.20,255.10L924.38,261.14L927.40,250.89L918.93,244.36L929.61,244.06Z" fill="#FF8C00" stroke="#000" stroke-width="2.4" stroke-miterlimit="10"/>
<line x1="864.60" y1="110.70" x2="864.60" y2="141.00" stroke="#EE3424" stroke-width="3.4" stroke-linecap="butt"/>
<line x1="858.20" y1="165.00" x2="858.20" y2="192.80" stroke="#EE3424" stroke-width="3.4" stroke-linecap="butt"/>
<line x1="914.40" y1="160.00" x2="893.00" y2="188.00" stroke="#EE3424" stroke-width="3.4" stroke-linecap="butt"/>
<line x1="1039.50" y1="115.50" x2="1039.50" y2="150.00" stroke="#EE3424" stroke-width="3.4" stroke-linecap="butt"/>
<line x1="1001.30" y1="156.10" x2="1024.00" y2="172.00" stroke="#EE3424" stroke-width="3.4" stroke-linecap="butt"/>
<line x1="1063.30" y1="209.40" x2="1063.30" y2="245.00" stroke="#EE3424" stroke-width="3.4" stroke-linecap="butt"/>
<text transform="translate(847.67,104.50) scale(1,1.08)" fill="#EA3526" font-size="30">32</text>
<text transform="translate(841.35,219.10) scale(1,1.08)" fill="#EA3526" font-size="30">35</text>
<text transform="translate(897.15,152.90) scale(1,1.08)" fill="#EA3526" font-size="30">36</text>
<text transform="translate(1022.50,109.00) scale(1,1.08)" fill="#EA3526" font-size="30">45</text>
<text transform="translate(957.50,166.10) scale(1,1.08)" fill="#EA3526" font-size="30">46</text>
<text transform="translate(1046.67,201.50) scale(1,1.08)" fill="#EA3526" font-size="30">37</text>
<text transform="translate(957.73,242.90) scale(1,1.08)" fill="#FF8C10" font-size="30">28</text>
<rect x="804.5" y="71.5" width="285.70" height="196.70" fill="none" stroke="#999" stroke-width="1.4"/>
<line x1="824.00" y1="268.20" x2="824.00" y2="283.70" stroke="#000" stroke-width="3.5" stroke-linecap="butt"/>
<line x1="824.00" y1="71.50" x2="824.00" y2="87.00" stroke="#000" stroke-width="3.5" stroke-linecap="butt"/>
<line x1="855.09" y1="268.20" x2="855.09" y2="276.20" stroke="#000" stroke-width="3.5" stroke-linecap="butt"/>
<line x1="855.09" y1="71.50" x2="855.09" y2="79.50" stroke="#000" stroke-width="3.5" stroke-linecap="butt"/>
<line x1="886.18" y1="268.20" x2="886.18" y2="276.20" stroke="#000" stroke-width="3.5" stroke-linecap="butt"/>
<line x1="886.18" y1="71.50" x2="886.18" y2="79.50" stroke="#000" stroke-width="3.5" stroke-linecap="butt"/>
<line x1="917.27" y1="268.20" x2="917.27" y2="276.20" stroke="#000" stroke-width="3.5" stroke-linecap="butt"/>
<line x1="917.27" y1="71.50" x2="917.27" y2="79.50" stroke="#000" stroke-width="3.5" stroke-linecap="butt"/>
<line x1="948.36" y1="268.20" x2="948.36" y2="276.20" stroke="#000" stroke-width="3.5" stroke-linecap="butt"/>
<line x1="948.36" y1="71.50" x2="948.36" y2="79.50" stroke="#000" stroke-width="3.5" stroke-linecap="butt"/>
<line x1="979.45" y1="268.20" x2="979.45" y2="283.70" stroke="#000" stroke-width="3.5" stroke-linecap="butt"/>
<line x1="979.45" y1="71.50" x2="979.45" y2="87.00" stroke="#000" stroke-width="3.5" stroke-linecap="butt"/>
<line x1="1010.54" y1="268.20" x2="1010.54" y2="276.20" stroke="#000" stroke-width="3.5" stroke-linecap="butt"/>
<line x1="1010.54" y1="71.50" x2="1010.54" y2="79.50" stroke="#000" stroke-width="3.5" stroke-linecap="butt"/>
<line x1="1041.63" y1="268.20" x2="1041.63" y2="276.20" stroke="#000" stroke-width="3.5" stroke-linecap="butt"/>
<line x1="1041.63" y1="71.50" x2="1041.63" y2="79.50" stroke="#000" stroke-width="3.5" stroke-linecap="butt"/>
<line x1="1072.72" y1="268.20" x2="1072.72" y2="276.20" stroke="#000" stroke-width="3.5" stroke-linecap="butt"/>
<line x1="1072.72" y1="71.50" x2="1072.72" y2="79.50" stroke="#000" stroke-width="3.5" stroke-linecap="butt"/>
<line x1="789.00" y1="77.80" x2="804.50" y2="77.80" stroke="#000" stroke-width="3.5" stroke-linecap="butt"/>
<line x1="1090.20" y1="77.80" x2="1074.70" y2="77.80" stroke="#000" stroke-width="3.5" stroke-linecap="butt"/>
<line x1="796.50" y1="104.30" x2="804.50" y2="104.30" stroke="#000" stroke-width="3.5" stroke-linecap="butt"/>
<line x1="1090.20" y1="104.30" x2="1082.20" y2="104.30" stroke="#000" stroke-width="3.5" stroke-linecap="butt"/>
<line x1="789.00" y1="130.80" x2="804.50" y2="130.80" stroke="#000" stroke-width="3.5" stroke-linecap="butt"/>
<line x1="1090.20" y1="130.80" x2="1074.70" y2="130.80" stroke="#000" stroke-width="3.5" stroke-linecap="butt"/>
<line x1="796.50" y1="157.30" x2="804.50" y2="157.30" stroke="#000" stroke-width="3.5" stroke-linecap="butt"/>
<line x1="1090.20" y1="157.30" x2="1082.20" y2="157.30" stroke="#000" stroke-width="3.5" stroke-linecap="butt"/>
<line x1="789.00" y1="183.80" x2="804.50" y2="183.80" stroke="#000" stroke-width="3.5" stroke-linecap="butt"/>
<line x1="1090.20" y1="183.80" x2="1074.70" y2="183.80" stroke="#000" stroke-width="3.5" stroke-linecap="butt"/>
<line x1="796.50" y1="210.30" x2="804.50" y2="210.30" stroke="#000" stroke-width="3.5" stroke-linecap="butt"/>
<line x1="1090.20" y1="210.30" x2="1082.20" y2="210.30" stroke="#000" stroke-width="3.5" stroke-linecap="butt"/>
<line x1="789.00" y1="236.80" x2="804.50" y2="236.80" stroke="#000" stroke-width="3.5" stroke-linecap="butt"/>
<line x1="1090.20" y1="236.80" x2="1074.70" y2="236.80" stroke="#000" stroke-width="3.5" stroke-linecap="butt"/>
<line x1="796.50" y1="263.30" x2="804.50" y2="263.30" stroke="#000" stroke-width="3.5" stroke-linecap="butt"/>
<line x1="1090.20" y1="263.30" x2="1082.20" y2="263.30" stroke="#000" stroke-width="3.5" stroke-linecap="butt"/>
<text transform="translate(794.88,304.40) scale(1,1.08)" fill="#000" font-size="23">−1.65</text>
<text transform="translate(950.25,304.40) scale(1,1.08)" fill="#000" font-size="23">−1.60</text>
<text transform="translate(751.50,86.00) scale(1,1.08)" fill="#000" font-size="23">4.8</text>
<text transform="translate(751.50,139.00) scale(1,1.08)" fill="#000" font-size="23">4.6</text>
<text transform="translate(751.00,192.00) scale(1,1.08)" fill="#000" font-size="23">4.4</text>
<text transform="translate(751.50,245.00) scale(1,1.08)" fill="#000" font-size="23">4.2</text>
<rect x="535.6" y="522.7" width="193.50" height="293.00" fill="#fff" stroke="none"/>
<line x1="535.60" y1="798.60" x2="575.60" y2="815.70" stroke="#000" stroke-width="3.6" stroke-linecap="butt"/>
<circle cx="646.60" cy="582.50" r="9.85" fill="#1434F5" stroke="#000" stroke-width="3.5"/>
<path d="M570.70,600.90L582.10,620.40L559.30,620.40Z" fill="#FA40FA" stroke="#000" stroke-width="2.0" stroke-linejoin="miter"/>
<circle cx="589.70" cy="625.60" r="9.85" fill="#1434F5" stroke="#000" stroke-width="3.5"/>
<circle cx="594.50" cy="677.80" r="9.85" fill="#1434F5" stroke="#000" stroke-width="3.5"/>
<circle cx="684.60" cy="750.50" r="9.85" fill="#1434F5" stroke="#000" stroke-width="3.5"/>
<path d="M597.10,768.40L619.90,768.40L608.50,787.90Z" fill="#EE3424" stroke="#000" stroke-width="2.0" stroke-linejoin="miter"/>
<line x1="646.60" y1="565.40" x2="646.60" y2="580.00" stroke="#0A32FF" stroke-width="3.4" stroke-linecap="butt"/>
<line x1="570.70" y1="581.30" x2="570.70" y2="605.00" stroke="#FF40FF" stroke-width="3.4" stroke-linecap="butt"/>
<line x1="599.00" y1="625.60" x2="623.20" y2="625.60" stroke="#0A32FF" stroke-width="3.4" stroke-linecap="butt"/>
<line x1="604.00" y1="677.80" x2="633.50" y2="677.80" stroke="#0A32FF" stroke-width="3.4" stroke-linecap="butt"/>
<line x1="684.60" y1="714.00" x2="684.60" y2="741.00" stroke="#0A32FF" stroke-width="3.4" stroke-linecap="butt"/>
<line x1="608.50" y1="749.40" x2="608.50" y2="775.00" stroke="#EA3526" stroke-width="3.4" stroke-linecap="butt"/>
<text transform="translate(637.25,559.30) scale(1,1.08)" fill="#0A32FF" font-size="30">1</text>
<text transform="translate(553.92,575.50) scale(1,1.08)" fill="#FF40FF" font-size="30">14</text>
<text transform="translate(633.23,636.30) scale(1,1.08)" fill="#0A32FF" font-size="30">2</text>
<text transform="translate(643.52,687.80) scale(1,1.08)" fill="#0A32FF" font-size="30">3</text>
<text transform="translate(676.35,707.80) scale(1,1.08)" fill="#0A32FF" font-size="30">4</text>
<text transform="translate(592.00,743.00) scale(1,1.08)" fill="#EA3526" font-size="30">48</text>
<rect x="535.6" y="522.7" width="193.50" height="293.00" fill="none" stroke="#999" stroke-width="1.4"/>
<line x1="556.70" y1="815.70" x2="556.70" y2="823.70" stroke="#000" stroke-width="3.5" stroke-linecap="butt"/>
<line x1="556.70" y1="522.70" x2="556.70" y2="530.70" stroke="#000" stroke-width="3.5" stroke-linecap="butt"/>
<line x1="604.00" y1="815.70" x2="604.00" y2="831.20" stroke="#000" stroke-width="3.5" stroke-linecap="butt"/>
<line x1="604.00" y1="522.70" x2="604.00" y2="538.20" stroke="#000" stroke-width="3.5" stroke-linecap="butt"/>
<line x1="651.40" y1="815.70" x2="651.40" y2="823.70" stroke="#000" stroke-width="3.5" stroke-linecap="butt"/>
<line x1="651.40" y1="522.70" x2="651.40" y2="530.70" stroke="#000" stroke-width="3.5" stroke-linecap="butt"/>
<line x1="698.70" y1="815.70" x2="698.70" y2="831.20" stroke="#000" stroke-width="3.5" stroke-linecap="butt"/>
<line x1="698.70" y1="522.70" x2="698.70" y2="538.20" stroke="#000" stroke-width="3.5" stroke-linecap="butt"/>
<line x1="527.60" y1="786.10" x2="535.60" y2="786.10" stroke="#000" stroke-width="3.5" stroke-linecap="butt"/>
<line x1="729.10" y1="786.10" x2="721.10" y2="786.10" stroke="#000" stroke-width="3.5" stroke-linecap="butt"/>
<line x1="520.10" y1="747.90" x2="535.60" y2="747.90" stroke="#000" stroke-width="3.5" stroke-linecap="butt"/>
<line x1="729.10" y1="747.90" x2="713.60" y2="747.90" stroke="#000" stroke-width="3.5" stroke-linecap="butt"/>
<line x1="527.60" y1="709.80" x2="535.60" y2="709.80" stroke="#000" stroke-width="3.5" stroke-linecap="butt"/>
<line x1="729.10" y1="709.80" x2="721.10" y2="709.80" stroke="#000" stroke-width="3.5" stroke-linecap="butt"/>
<line x1="520.10" y1="671.60" x2="535.60" y2="671.60" stroke="#000" stroke-width="3.5" stroke-linecap="butt"/>
<line x1="729.10" y1="671.60" x2="713.60" y2="671.60" stroke="#000" stroke-width="3.5" stroke-linecap="butt"/>
<line x1="527.60" y1="633.50" x2="535.60" y2="633.50" stroke="#000" stroke-width="3.5" stroke-linecap="butt"/>
<line x1="729.10" y1="633.50" x2="721.10" y2="633.50" stroke="#000" stroke-width="3.5" stroke-linecap="butt"/>
<line x1="520.10" y1="595.30" x2="535.60" y2="595.30" stroke="#000" stroke-width="3.5" stroke-linecap="butt"/>
<line x1="729.10" y1="595.30" x2="713.60" y2="595.30" stroke="#000" stroke-width="3.5" stroke-linecap="butt"/>
<line x1="527.60" y1="557.20" x2="535.60" y2="557.20" stroke="#000" stroke-width="3.5" stroke-linecap="butt"/>
<line x1="729.10" y1="557.20" x2="721.10" y2="557.20" stroke="#000" stroke-width="3.5" stroke-linecap="butt"/>
<text transform="translate(574.83,853.50) scale(1,1.08)" fill="#000" font-size="23">−1.44</text>
<text transform="translate(669.98,853.50) scale(1,1.08)" fill="#000" font-size="23">−1.42</text>
<text transform="translate(483.75,755.50) scale(1,1.08)" fill="#000" font-size="23">4.0</text>
<text transform="translate(484.00,679.20) scale(1,1.08)" fill="#000" font-size="23">4.1</text>
<text transform="translate(484.00,602.90) scale(1,1.08)" fill="#000" font-size="23">4.2</text>
<rect x="1105.6" y="339.6" width="175.70" height="151.70" fill="#fff" stroke="none"/>
<rect x="1171.75" y="411.25" width="17.2" height="17.2" fill="#00E000" stroke="#000" stroke-width="1.7"/>
<path d="M1189.70,427.20L1200.80,438.30L1189.70,449.40L1178.60,438.30Z" fill="#10E8F2" stroke="#000" stroke-width="2.0"/>
<line x1="1180.10" y1="386.70" x2="1180.10" y2="411.00" stroke="#00EE00" stroke-width="3.4" stroke-linecap="butt"/>
<line x1="1200.00" y1="438.30" x2="1222.80" y2="438.30" stroke="#00F0FF" stroke-width="3.4" stroke-linecap="butt"/>
<text transform="translate(1163.53,380.50) scale(1,1.08)" fill="#00EE00" font-size="30">25</text>
<text transform="translate(1233.33,448.60) scale(1,1.08)" fill="#00F0FF" font-size="30">20</text>
<rect x="1105.6" y="339.6" width="175.70" height="151.70" fill="none" stroke="#999" stroke-width="1.4"/>
<line x1="1119.00" y1="491.30" x2="1119.00" y2="499.30" stroke="#000" stroke-width="3.5" stroke-linecap="butt"/>
<line x1="1119.00" y1="339.60" x2="1119.00" y2="347.60" stroke="#000" stroke-width="3.5" stroke-linecap="butt"/>
<line x1="1165.70" y1="491.30" x2="1165.70" y2="506.80" stroke="#000" stroke-width="3.5" stroke-linecap="butt"/>
<line x1="1165.70" y1="339.60" x2="1165.70" y2="355.10" stroke="#000" stroke-width="3.5" stroke-linecap="butt"/>
<line x1="1213.00" y1="491.30" x2="1213.00" y2="499.30" stroke="#000" stroke-width="3.5" stroke-linecap="butt"/>
<line x1="1213.00" y1="339.60" x2="1213.00" y2="347.60" stroke="#000" stroke-width="3.5" stroke-linecap="butt"/>
<line x1="1260.20" y1="491.30" x2="1260.20" y2="506.80" stroke="#000" stroke-width="3.5" stroke-linecap="butt"/>
<line x1="1260.20" y1="339.60" x2="1260.20" y2="355.10" stroke="#000" stroke-width="3.5" stroke-linecap="butt"/>
<line x1="1090.10" y1="348.20" x2="1105.60" y2="348.20" stroke="#000" stroke-width="3.5" stroke-linecap="butt"/>
<line x1="1281.30" y1="348.20" x2="1265.80" y2="348.20" stroke="#000" stroke-width="3.5" stroke-linecap="butt"/>
<line x1="1097.60" y1="366.58" x2="1105.60" y2="366.58" stroke="#000" stroke-width="3.5" stroke-linecap="butt"/>
<line x1="1281.30" y1="366.58" x2="1273.30" y2="366.58" stroke="#000" stroke-width="3.5" stroke-linecap="butt"/>
<line x1="1097.60" y1="384.96" x2="1105.60" y2="384.96" stroke="#000" stroke-width="3.5" stroke-linecap="butt"/>
<line x1="1281.30" y1="384.96" x2="1273.30" y2="384.96" stroke="#000" stroke-width="3.5" stroke-linecap="butt"/>
<line x1="1097.60" y1="403.34" x2="1105.60" y2="403.34" stroke="#000" stroke-width="3.5" stroke-linecap="butt"/>
<line x1="1281.30" y1="403.34" x2="1273.30" y2="403.34" stroke="#000" stroke-width="3.5" stroke-linecap="butt"/>
<line x1="1097.60" y1="421.72" x2="1105.60" y2="421.72" stroke="#000" stroke-width="3.5" stroke-linecap="butt"/>
<line x1="1281.30" y1="421.72" x2="1273.30" y2="421.72" stroke="#000" stroke-width="3.5" stroke-linecap="butt"/>
<line x1="1090.10" y1="440.10" x2="1105.60" y2="440.10" stroke="#000" stroke-width="3.5" stroke-linecap="butt"/>
<line x1="1281.30" y1="440.10" x2="1265.80" y2="440.10" stroke="#000" stroke-width="3.5" stroke-linecap="butt"/>
<line x1="1097.60" y1="458.48" x2="1105.60" y2="458.48" stroke="#000" stroke-width="3.5" stroke-linecap="butt"/>
<line x1="1281.30" y1="458.48" x2="1273.30" y2="458.48" stroke="#000" stroke-width="3.5" stroke-linecap="butt"/>
<line x1="1097.60" y1="476.86" x2="1105.60" y2="476.86" stroke="#000" stroke-width="3.5" stroke-linecap="butt"/>
<line x1="1281.30" y1="476.86" x2="1273.30" y2="476.86" stroke="#000" stroke-width="3.5" stroke-linecap="butt"/>
<text transform="translate(1136.88,528.00) scale(1,1.08)" fill="#000" font-size="23">−0.86</text>
<text transform="translate(1222.12,528.00) scale(1,1.08)" fill="#000" font-size="23">−0.84</text>
<text transform="translate(1040.75,356.00) scale(1,1.08)" fill="#000" font-size="23">2.45</text>
<text transform="translate(1040.50,447.90) scale(1,1.08)" fill="#000" font-size="23">2.40</text>
</svg></body></html>
